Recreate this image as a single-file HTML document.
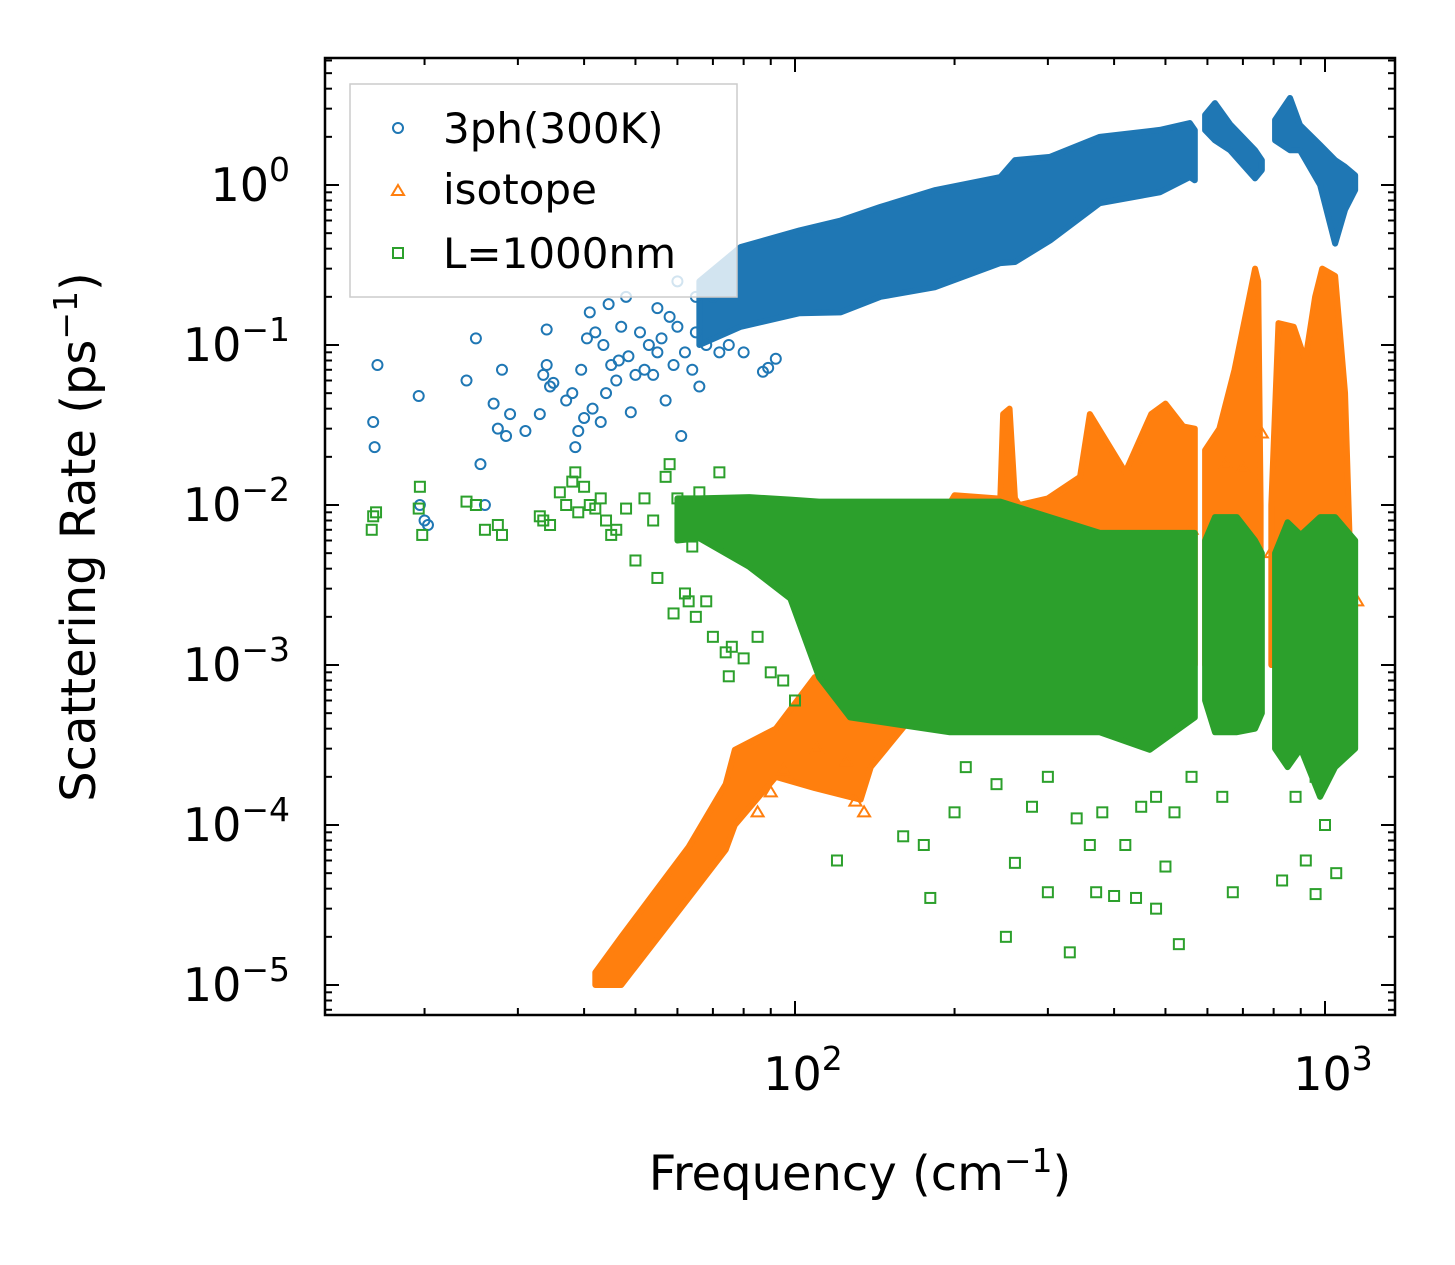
<!DOCTYPE html>
<html><head><meta charset="utf-8">
<style>
html,body{margin:0;padding:0;background:#fff;}
svg{display:block;font-family:"DejaVu Sans","Liberation Sans",sans-serif;}
</style></head>
<body>
<svg id="chart" width="1455" height="1265" viewBox="0 0 1455 1265">
  <rect x="0" y="0" width="1455" height="1265" fill="#fff"/>
  <g id="marks"></g>
  <g id="axes"></g>
  <text x="95" y="537" font-size="48" text-anchor="middle" transform="rotate(-90 95 537)">Scattering Rate (ps<tspan dy="-18" font-size="33">−1</tspan><tspan dy="18">)</tspan></text>
  <text x="860" y="1190" font-size="48" text-anchor="middle">Frequency (cm<tspan dy="-18" font-size="33">−1</tspan><tspan dy="18">)</tspan></text>
  <g>
    <rect x="350" y="84" width="387" height="213" fill="#fff" fill-opacity="0.8" stroke="#ccc" stroke-width="1.5"/>
    <circle cx="398" cy="128" r="5" fill="none" stroke="#1f77b4" stroke-width="2"/>
    <text x="443" y="143" font-size="42">3ph(300K)</text>
    <path d="M398 185 L404 195 L392 195 Z" fill="none" stroke="#ff7f0e" stroke-width="2"/>
    <text x="443" y="204" font-size="42">isotope</text>
    <rect x="393" y="248" width="10" height="10" fill="none" stroke="#2ca02c" stroke-width="2"/>
    <text x="443" y="268" font-size="42">L=1000nm</text>
  </g>
</svg>
<script>
// Dense-band data (frequency, lower, upper); null breaks a band into segments
const blueBandF  = [66,79,102,122,145,184,244,260,303,376,488,556,568,null,594,620,662,738,760,null,805,859,897,979,1045,1091,1140];
const blueBandLo = [0.1,0.13,0.158,0.16,0.2,0.23,0.325,0.33,0.45,0.77,0.9,1.12,1.07,null,2.2,1.9,1.65,1.1,1.24,null,1.9,1.65,1.65,1.0,0.43,0.7,0.93];
const blueBandHi = [0.25,0.41,0.52,0.6,0.73,0.93,1.12,1.43,1.5,2.0,2.21,2.44,2.2,null,2.74,3.25,2.4,1.65,1.43,null,2.55,3.5,2.37,1.78,1.43,1.3,1.15];
const orangeBandF  = [42,47,63,74,77,92,109,133,139,200,240,244,247,254,260,265,300,345,360,420,470,500,540,568,null,594,632,675,720,738,748,756,null,792,817,873,918,958,988,1045,1091,1115];
const orangeBandLo = [1e-5,1e-5,3.5e-5,7e-5,1e-4,2e-4,1.7e-4,1.44e-4,2.3e-4,1e-3,1e-3,1e-3,1e-3,1e-3,1e-3,1e-3,1e-3,1e-3,1e-3,1e-3,1e-3,1e-3,1e-3,1e-3,null,1e-3,1e-3,1e-3,1e-3,1e-3,1e-3,1e-3,null,1e-3,1e-3,1e-3,1e-3,1e-3,1e-3,1e-3,1e-3,1e-3];
const orangeBandHi = [1.2e-5,2e-5,7.3e-5,1.8e-4,2.95e-4,4e-4,8.4e-4,1e-3,1.5e-3,0.0115,0.011,0.011,0.037,0.04,0.011,0.01,0.011,0.015,0.037,0.016,0.037,0.043,0.031,0.03,null,0.022,0.03,0.07,0.2,0.3,0.25,0.01,null,0.01,0.137,0.13,0.08,0.2,0.3,0.27,0.05,0.005];
const greenBandF  = [60,66,82,98,111,127,196,244,376,467,568,null,594,620,682,738,760,null,805,850,900,979,1045,1140];
const greenBandLo = [0.006,0.0062,0.0041,0.0026,8.4e-4,4.7e-4,3.8e-4,3.8e-4,3.8e-4,2.95e-4,4.7e-4,null,6e-4,3.8e-4,3.8e-4,4e-4,5e-4,null,3e-4,2.3e-4,3e-4,1.5e-4,2.3e-4,3e-4];
const greenBandHi = [0.011,0.011,0.0112,0.0108,0.0105,0.0105,0.0105,0.0105,0.0067,0.0067,0.0067,null,0.006,0.0084,0.0084,0.006,0.005,null,0.005,0.0078,0.0065,0.0084,0.0084,0.006];
// Sparse points [frequency, rate]
const bluePts = [[16,0.033],[16.1,0.023],[16.3,0.075],[19.5,0.048],[19.6,0.01],[20,0.008],[20.3,0.0075],[24,0.06],[25,0.11],[25.5,0.018],[26,0.01],[27,0.043],[27.5,0.03],[28,0.07],[28.5,0.027],[29,0.037],[31,0.029],[33,0.037],[33.5,0.065],[34,0.075],[34,0.125],[34.5,0.055],[35,0.058],[37,0.045],[38,0.05],[38.5,0.023],[39,0.029],[39.5,0.07],[40,0.035],[40.5,0.11],[41,0.16],[41.5,0.04],[42,0.12],[43,0.033],[43.5,0.1],[44,0.05],[44.5,0.18],[45,0.075],[46,0.06],[46.5,0.08],[47,0.13],[48,0.2],[48.5,0.085],[49,0.038],[50,0.065],[51,0.12],[52,0.07],[53,0.1],[54,0.065],[55,0.09],[56,0.11],[57,0.045],[58,0.15],[59,0.075],[60,0.13],[61,0.027],[62,0.09],[64,0.07],[65,0.12],[66,0.055],[68,0.1],[70,0.2],[72,0.09],[75,0.1],[80,0.09],[87,0.068],[89,0.072],[92,0.082],[55,0.17],[65,0.2],[60,0.25]];
const orangePts = [[85,1.2e-4],[90,1.6e-4],[95,2.2e-4],[130,1.4e-4],[135,1.2e-4],[125,2.5e-4],[110,3e-4],[560,7e-3],[620,5e-3],[650,1.8e-2],[700,1.7e-2],[1100,2e-3],[1150,2.5e-3],[760,2.8e-2],[790,5e-3],[970,3e-3]];
const greenPts = [[16,0.0085],[16.2,0.009],[15.9,0.007],[19.5,0.0095],[19.6,0.013],[19.8,0.0065],[24,0.0105],[25,0.01],[26,0.007],[27.5,0.0075],[28,0.0065],[33,0.0085],[33.5,0.008],[34.5,0.0075],[36,0.012],[37,0.01],[38,0.014],[38.5,0.016],[39,0.009],[40,0.013],[41,0.01],[42,0.0095],[43,0.011],[44,0.008],[45,0.0065],[46,0.007],[48,0.0095],[50,0.0045],[52,0.011],[54,0.008],[55,0.0035],[57,0.015],[58,0.018],[59,0.0021],[60,0.011],[62,0.0028],[63,0.0025],[64,0.0055],[65,0.002],[66,0.012],[68,0.0025],[70,0.0015],[72,0.016],[74,0.0012],[75,0.00085],[76,0.0013],[80,0.0011],[85,0.0015],[90,0.0009],[95,0.0008],[100,0.0006],[120,6e-5],[160,8.5e-5],[175,7.5e-5],[180,3.5e-5],[200,1.2e-4],[210,2.3e-4],[250,2e-5],[260,5.8e-5],[280,1.3e-4],[300,3.8e-5],[330,1.6e-5],[340,1.1e-4],[360,7.5e-5],[370,3.8e-5],[380,1.2e-4],[400,3.6e-5],[420,7.5e-5],[440,3.5e-5],[450,1.3e-4],[480,3e-5],[500,5.5e-5],[530,1.8e-5],[560,2e-4],[640,1.5e-4],[670,3.8e-5],[830,4.5e-5],[880,1.5e-4],[920,6e-5],[960,3.7e-5],[1050,5e-5],[480,1.5e-4],[520,1.2e-4],[300,2e-4],[240,1.8e-4],[1000,1e-4],[960,2e-4]];
const yTickExps = [0,-1,-2,-3,-4,-5];
const xTickExps = [2,3];

const NS = "http://www.w3.org/2000/svg";
const PL=325, PR=1395, PT=58, PB=1015;
function xs(f){ return 795 + (Math.log10(f)-2)*530; }
function ys(v){ return 185 - Math.log10(v)*160; }
const marks = document.getElementById('marks');
const axes = document.getElementById('axes');
function mk(tag, attrs, parent){ const e=document.createElementNS(NS,tag); for(const k in attrs) e.setAttribute(k,attrs[k]); parent.appendChild(e); return e; }

function drawBand(F,Lo,Hi,color,name){
  let segs=[], cur=[];
  for(let i=0;i<F.length;i++){ if(F[i]===null){ if(cur.length) segs.push(cur); cur=[]; } else cur.push(i); }
  if(cur.length) segs.push(cur);
  segs.forEach(seg=>{
    let pts=seg.map(i=>xs(F[i])+','+ys(Hi[i]));
    pts=pts.concat(seg.slice().reverse().map(i=>xs(F[i])+','+ys(Lo[i])));
    const p=mk('polygon',{points:pts.join(' '),fill:color,stroke:color,'stroke-width':6,'stroke-linejoin':'round'},marks);
    
    
  });
}
function drawPts(P,color,shape,name){
  P.forEach(d=>{
    const x=xs(d[0]), y=ys(d[1]); let e;
    if(shape==='c') e=mk('circle',{cx:x,cy:y,r:5,fill:'none',stroke:color,'stroke-width':2},marks);
    else if(shape==='t') e=mk('path',{d:`M${x} ${y-6} L${x+6} ${y+4} L${x-6} ${y+4} Z`,fill:'none',stroke:color,'stroke-width':2},marks);
    else e=mk('rect',{x:x-5,y:y-5,width:10,height:10,fill:'none',stroke:color,'stroke-width':2},marks);
    
    
  });
}
drawBand(blueBandF,blueBandLo,blueBandHi,'#1f77b4','band-3ph');
drawPts(bluePts,'#1f77b4','c','point-3ph');
drawBand(orangeBandF,orangeBandLo,orangeBandHi,'#ff7f0e','band-isotope');
drawPts(orangePts,'#ff7f0e','t','point-isotope');
drawBand(greenBandF,greenBandLo,greenBandHi,'#2ca02c','band-boundary');
drawPts(greenPts,'#2ca02c','s','point-boundary');

const fr=mk('rect',{x:PL,y:PT,width:PR-PL,height:PB-PT,fill:'none',stroke:'#000','stroke-width':2.5},axes);


for(let e=-6;e<=1;e++){
  for(let m=1;m<=9;m++){
    const v=m*Math.pow(10,e), y=ys(v);
    if(y<PT+1||y>PB-1) continue;
    const L = m===1?14:7;
    mk('line',{x1:PL,x2:PL+L,y1:y,y2:y,stroke:'#000','stroke-width':2},axes);
    mk('line',{x1:PR,x2:PR-L,y1:y,y2:y,stroke:'#000','stroke-width':2},axes);
  }
}
yTickExps.forEach(e=>{
  const t=mk('text',{x:290,y:ys(Math.pow(10,e))+16,'font-size':46,'text-anchor':'end'},axes);
  
  
  t.innerHTML = '10<tspan dy="-20" font-size="33">'+(e<0?'−'+(-e):e)+'</tspan>';
});
for(let e=1;e<=3;e++){
  for(let m=1;m<=9;m++){
    const f=m*Math.pow(10,e), x=xs(f);
    if(x<PL+1||x>PR-1) continue;
    const L = m===1?14:7;
    mk('line',{x1:x,x2:x,y1:PB,y2:PB-L,stroke:'#000','stroke-width':2},axes);
    mk('line',{x1:x,x2:x,y1:PT,y2:PT+L,stroke:'#000','stroke-width':2},axes);
  }
}
xTickExps.forEach(e=>{
  const t=mk('text',{x:xs(Math.pow(10,e))+8,y:1090,'font-size':46,'text-anchor':'middle'},axes);
  
  
  t.innerHTML = '10<tspan dy="-20" font-size="33">'+e+'</tspan>';
});
</script>
</body></html>
